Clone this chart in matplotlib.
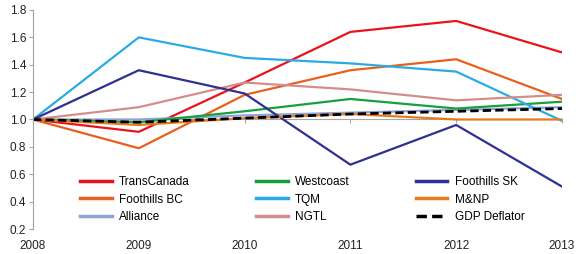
import matplotlib
matplotlib.use("Agg")
import matplotlib.pyplot as plt

plt.rcParams['font.family'] = ['Liberation Sans', 'DejaVu Sans']

# Jahre und Indexwerte (2008 = 1.0)
jahre = [2008, 2009, 2010, 2011, 2012, 2013]
transcanada = [1.00, 0.91, 1.27, 1.64, 1.72, 1.49]
westcoast = [1.00, 0.98, 1.06, 1.15, 1.08, 1.13]
foothills_sk = [1.00, 1.36, 1.19, 0.67, 0.96, 0.51]
foothills_bc = [1.00, 0.79, 1.18, 1.36, 1.44, 1.15]
tqm = [1.00, 1.60, 1.45, 1.41, 1.35, 0.99]
mnp = [1.00, 0.96, 1.01, 1.04, 1.00, 1.00]
alliance = [1.00, 1.00, 1.03, 1.05, 1.07, 1.09]
ngtl = [1.00, 1.09, 1.27, 1.22, 1.14, 1.18]
gdp_deflator = [1.00, 0.98, 1.01, 1.04, 1.06, 1.08]

fig = plt.figure(figsize=(5.8, 2.54), dpi=100)
ax = fig.add_axes([33/580, 25/254, 529/580, 219/254])

# Reihenfolge so, dass die Legende zeilenweise wie im Original erscheint
ax.plot(jahre, transcanada, color='#E8141B', lw=1.6, label='TransCanada')
ax.plot(jahre, foothills_bc, color='#E8601C', lw=1.6, label='Foothills BC')
ax.plot(jahre, alliance, color='#8EA4D6', lw=1.6, label='Alliance')
ax.plot(jahre, westcoast, color='#16A03C', lw=1.6, label='Westcoast')
ax.plot(jahre, tqm, color='#2AABE4', lw=1.6, label='TQM')
ax.plot(jahre, ngtl, color='#D38E8C', lw=1.6, label='NGTL')
ax.plot(jahre, foothills_sk, color='#2E3092', lw=1.6, label='Foothills SK')
ax.plot(jahre, mnp, color='#E87A1E', lw=1.6, label='M&NP')
ax.plot(jahre, gdp_deflator, color='black', lw=2.0, ls=(0, (3, 1.5)), label='GDP Deflator')

ax.set_xlim(2008, 2013)
ax.set_ylim(0.2, 1.8)
ax.set_yticks([0.2, 0.4, 0.6, 0.8, 1.0, 1.2, 1.4, 1.6, 1.8])
ax.set_yticklabels(['0.2', '0.4', '0.6', '0.8', '1.0', '1.2', '1.4', '1.6', '1.8'])

# x-Achse liegt bei 1.0, Beschriftung unten
for s in ['top', 'right']:
    ax.spines[s].set_visible(False)
ax.spines['left'].set_color('#A6A6A6')
ax.spines['bottom'].set_position(('data', 1.0))
ax.spines['bottom'].set_color('#A6A6A6')
ax.spines['bottom'].set_zorder(0)
ax.set_xticks(jahre)
ax.tick_params(axis='x', direction='out', length=3, color='#A6A6A6', labelbottom=False)
ax.tick_params(axis='y', direction='out', length=3, color='#A6A6A6', labelsize=8.5, labelcolor='#222222', pad=2)

sec = ax.secondary_xaxis(0)
sec.set_xticks(jahre)
sec.set_xticklabels([str(j) for j in jahre])
sec.spines['bottom'].set_visible(False)
sec.tick_params(length=0, labelsize=8.5, labelcolor='#222222', pad=8)

ax.legend(ncol=3, loc='upper left', bbox_to_anchor=(0.08, 0.265), frameon=False,
          fontsize=8.5, handlelength=2.7, handletextpad=0.6, columnspacing=5.6,
          labelspacing=0.5, borderaxespad=0)
for l in ax.get_legend().get_lines():
    l.set_linewidth(2.5)

fig.savefig('out.png', dpi=100)
